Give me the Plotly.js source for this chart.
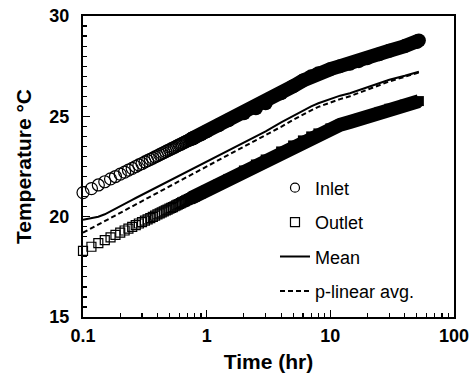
<!DOCTYPE html>
<html>
<head>
<meta charset="utf-8">
<script src="https://cdn.plot.ly/plotly-3.0.1.min.js"></script>
<style>html,body{margin:0;padding:0;background:#fff;}#chart{width:471px;height:373px;}</style>
</head>
<body>
<div id="chart"></div>
<script>
// Time (hr)
var timeHr = [0.1,0.117,0.133,0.15,0.167,0.183,0.2,0.217,0.233,0.25,0.267,0.283,0.3,0.317,0.333,0.35,0.367,0.383,0.4,0.417,0.433,0.45,0.467,0.483,0.5,0.517,0.533,0.55,0.567,0.583,0.6,0.617,0.633,0.65,0.667,0.683,0.7,0.717,0.733,0.75,0.767,0.783,0.8,
  0.9,1,1.25,1.5,2,2.5,3,4,5,6,7,8,10,12,14.4,17,20,25,30,40,50,52];
// Temperatures (°C)
var inlet = [21.20,21.40,21.58,21.74,21.88,22.00,22.12,22.22,22.32,22.41,22.50,22.58,22.65,22.73,22.79,22.86,22.92,22.98,23.03,23.09,23.14,23.19,23.24,23.29,23.33,23.38,23.42,23.46,23.50,23.54,23.58,23.61,23.65,23.68,23.72,23.75,23.78,23.81,23.84,23.87,23.90,23.92,23.95,
  24.10,24.25,24.55,24.80,25.15,25.40,25.65,26.15,26.50,26.78,27.00,27.15,27.35,27.50,27.62,27.75,27.90,28.10,28.27,28.50,28.70,28.78];
var outlet = [18.30,18.50,18.68,18.83,18.97,19.09,19.20,19.31,19.40,19.49,19.58,19.66,19.73,19.80,19.87,19.93,19.99,20.05,20.11,20.16,20.21,20.26,20.31,20.35,20.40,20.44,20.48,20.52,20.56,20.60,20.63,20.67,20.71,20.74,20.77,20.81,20.84,20.87,20.90,20.93,20.96,20.98,21.01,
  21.16,21.32,21.62,21.88,22.30,22.60,22.85,23.25,23.55,23.80,24.00,24.15,24.40,24.58,24.72,24.87,25.00,25.22,25.38,25.58,25.72,25.76];
var meanT = [19.85,19.92,20.00,20.12,20.28,20.41,20.53,20.64,20.74,20.84,20.93,21.01,21.09,21.17,21.24,21.31,21.37,21.43,21.49,21.55,21.60,21.65,21.71,21.75,21.80,21.85,21.89,21.93,21.97,22.02,22.05,22.09,22.13,22.16,22.20,22.23,22.27,22.30,22.33,22.36,22.39,22.42,22.45,
  22.61,22.76,23.05,23.30,23.70,24.00,24.25,24.70,25.03,25.30,25.50,25.65,25.88,26.03,26.15,26.30,26.45,26.65,26.82,27.02,27.18,27.22];
var plinear = [19.20,19.42,19.61,19.78,19.93,20.07,20.19,20.31,20.41,20.51,20.61,20.69,20.77,20.85,20.93,20.99,21.06,21.13,21.19,21.25,21.30,21.35,21.41,21.46,21.51,21.55,21.60,21.64,21.68,21.73,21.77,21.81,21.85,21.88,21.92,21.96,21.99,22.02,22.05,22.09,22.12,22.15,22.18,
  22.35,22.50,22.81,23.08,23.50,23.80,24.05,24.48,24.82,25.10,25.30,25.47,25.70,25.86,26.00,26.17,26.33,26.55,26.74,26.97,27.14,27.19];
var seriesNames = ['Inlet','Outlet','Mean','p-linear avg.'];
var xTickVals = [0.1,1,10,100];
var xTickText = ['0.1','1','10','100'];
var yTickVals = [15,20,25,30];

var markEnd = 43;   // individual markers shown up to this index (sparse early samples)
var bandStart = 39; // dense samples drawn as a continuous band from this index

var FONT = 'Liberation Sans, Arial, sans-serif';

var data = [
  // legend entries
  {x:[null], y:[null], type:'scatter', mode:'markers', name:seriesNames[0], legendgroup:'a',
   marker:{symbol:'circle-open', size:9, color:'#000', line:{width:1.2, color:'#000'}}},
  {x:[null], y:[null], type:'scatter', mode:'markers', name:seriesNames[1], legendgroup:'b',
   marker:{symbol:'square-open', size:9, color:'#000', line:{width:1.2, color:'#000'}}},
  {x:timeHr, y:meanT, type:'scatter', mode:'lines', name:seriesNames[2], legendgroup:'c',
   line:{color:'#000', width:2}},
  {x:timeHr, y:plinear, type:'scatter', mode:'lines', name:seriesNames[3], legendgroup:'d',
   line:{color:'#000', width:2, dash:'5px,3px'}},
  // inlet
  {x:timeHr.slice(0, markEnd), y:inlet.slice(0, markEnd), type:'scatter', mode:'markers', showlegend:false, cliponaxis:false,
   marker:{symbol:'circle-open', size:12, color:'#000', line:{width:1.2, color:'#000'}}},
  {x:timeHr.slice(bandStart), y:inlet.slice(bandStart), type:'scatter', mode:'lines+markers', showlegend:false,
   line:{color:'#000', width:14}, marker:{symbol:'circle', size:14, color:'#000', line:{width:0}}},
  // outlet
  {x:timeHr.slice(0, markEnd), y:outlet.slice(0, markEnd), type:'scatter', mode:'markers', showlegend:false, cliponaxis:false,
   marker:{symbol:'square-open', size:9, color:'#000', line:{width:1.2, color:'#000'}}},
  {x:timeHr.slice(bandStart), y:outlet.slice(bandStart), type:'scatter', mode:'lines+markers', showlegend:false,
   line:{color:'#000', width:14}, marker:{symbol:'square', size:10, color:'#000', line:{width:0}}}
];

var layout = {
  width:471, height:373,
  margin:{l:83, r:17, t:16, b:56},
  paper_bgcolor:'#fff', plot_bgcolor:'#fff',
  font:{family:FONT, color:'#000'},
  showlegend:true,
  legend:{x:0.5175, xanchor:'left', y:0.49, yanchor:'top', bgcolor:'rgba(0,0,0,0)', borderwidth:0,
          font:{family:FONT, size:18, color:'#000'}, traceorder:'grouped', tracegroupgap:8},
  xaxis:{type:'log', range:[-1,2], tickvals:xTickVals, ticktext:xTickText,
         ticks:'inside', ticklen:7, tickwidth:1.5, tickcolor:'#000',
         showline:true, linewidth:2, linecolor:'#000', mirror:true,
         showgrid:false, zeroline:false, ticklabelstandoff:1,
         tickfont:{family:FONT, size:18, color:'#000', weight:'bold'},
         minor:{dtick:'D1', ticks:'inside', ticklen:4, tickwidth:1.2, tickcolor:'#000', showgrid:false},
         title:{text:'Time (hr)', font:{family:FONT, size:21, color:'#000', weight:'bold'}, standoff:17}},
  yaxis:{range:[15,30], tickvals:yTickVals,
         ticks:'inside', ticklen:7, tickwidth:1.5, tickcolor:'#000',
         showline:true, linewidth:2, linecolor:'#000', mirror:true,
         showgrid:false, zeroline:false, ticklabelstandoff:8,
         tickfont:{family:FONT, size:18, color:'#000', weight:'bold'},
         minor:{dtick:0.5, ticks:'inside', ticklen:4, tickwidth:1.2, tickcolor:'#000', showgrid:false},
         title:{text:'Temperature °C', font:{family:FONT, size:21, color:'#000', weight:'bold'}, standoff:12}}
};

Plotly.newPlot('chart', data, layout, {displayModeBar:false, staticPlot:true});
</script>
</body>
</html>
